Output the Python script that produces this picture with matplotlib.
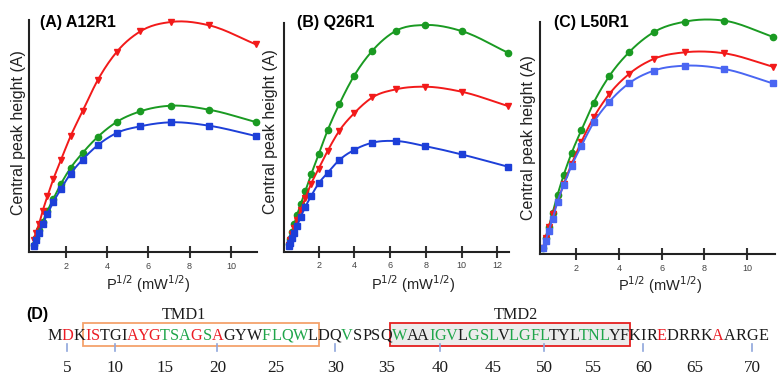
import numpy as np
import matplotlib.pyplot as plt
from matplotlib.patches import Rectangle
from matplotlib.font_manager import FontProperties

W, H = 781, 375

# x = sqrt(P) in mW^1/2
x_a = [0.45, 0.56, 0.71, 0.89, 1.12, 1.41, 1.78, 2.24, 2.82, 3.55, 4.47, 5.62, 7.08, 8.94, 11.2]
red_a = [12.3, 19.3, 27.7, 41, 55.7, 73, 92.3, 115.7, 140.7, 171.7, 200, 220.7, 230, 226.7, 207.7]
green_a = [6.7, 14.3, 21.7, 30, 41, 53.3, 68.3, 84, 99, 115, 130, 140.7, 146.3, 142.3, 130]
blue_a = [5.7, 12.3, 19.3, 28, 38, 50, 63.3, 78.3, 92.3, 106.7, 119, 125.7, 129.7, 126.3, 116]

x_b = [0.32, 0.4, 0.5, 0.63, 0.79, 1.0, 1.26, 1.58, 2.0, 2.51, 3.16, 3.98, 5.01, 6.31, 7.94, 10.0, 12.6]
green_b = [8, 13, 20, 27.3, 36.7, 47.7, 61, 77.3, 97.3, 121.7, 147.7, 175.7, 201, 220.7, 226.7, 220.7, 199]
red_b = [7, 12, 18, 24, 32, 42, 54, 68, 83, 101, 121, 138.3, 154.3, 162.3, 165, 160, 145.7]
blue_b = [5.7, 9, 13.3, 18.3, 25.7, 35, 45, 55.7, 68.3, 79, 91.7, 101.7, 109, 110.7, 105.7, 97.3, 85]

x_c = [0.45, 0.56, 0.71, 0.89, 1.12, 1.41, 1.78, 2.24, 2.82, 3.55, 4.47, 5.62, 7.08, 8.94, 11.2]
green_c = [5.7, 16, 27, 41, 59, 79, 101, 124, 151.5, 178, 201.7, 221.7, 232.3, 233.3, 217.3]
red_c = [5.7, 15.7, 26.7, 39.7, 52.3, 70, 90, 112.3, 136.7, 160, 180, 195, 201.7, 200.7, 187.3]
blue_c = [5.7, 13.3, 23.3, 35, 52.3, 69, 88.3, 108.3, 131.7, 152.3, 170.7, 183.3, 188.3, 185, 170.7]

titles = ["(A) A12R1", "(B) Q26R1", "(C) L50R1"]

# sequence, first residue is 4
seq = "MDKISTGIAYGTSAGSAGYWFLQWLDQVSPSQWAAIGVLGSLVLGFLTYLTNLYFKIREDRRKAARGE"
seq_col = "krkrrkkkrr" "rgggrgrkkk" "ggggkkkgkk" "kkgkkgggkg" "ggkggggkkk" "gggkkkkkrk" "kkkrkkkk"
first_res = 4
tmd1 = (7, 28)
tmd2 = (36, 58)
tick_res = [5, 10, 20, 30, 40, 50, 60, 70]
num_res = list(range(5, 71, 5))

plt.rcParams['font.family'] = ['Liberation Sans', 'DejaVu Sans']


def smooth(x, y, n=14):
    x = np.asarray(x, float)
    y = np.asarray(y, float)
    m = np.gradient(y, x)
    xs, ys = [], []
    t = np.linspace(0, 1, n, endpoint=False)
    for i in range(len(x) - 1):
        h = x[i + 1] - x[i]
        h00 = 2 * t**3 - 3 * t**2 + 1
        h10 = t**3 - 2 * t**2 + t
        h01 = -2 * t**3 + 3 * t**2
        h11 = t**3 - t**2
        ys.append(h00 * y[i] + h10 * h * m[i] + h01 * y[i + 1] + h11 * h * m[i + 1])
        xs.append(x[i] + t * h)
    xs.append([x[-1]])
    ys.append([y[-1]])
    return np.concatenate(xs), np.concatenate(ys)


def px(x0, y0, x1, y1):
    # pixel box (top-left origin) -> figure fraction rect
    return [x0 / W, 1 - y1 / H, (x1 - x0) / W, (y1 - y0) / H]


fig = plt.figure(figsize=(W / 100, H / 100), dpi=100)

panels = [
    (px(29, 20, 257, 252), (0.23, 11.26), [2, 4, 6, 8, 10], x_a, red_a, green_a, blue_a, '#1d3fd8'),
    (px(284, 23, 509, 251.7), (0.06, 12.66), [2, 4, 6, 8, 10, 12], x_b, red_b, green_b, blue_b, '#1d3fd8'),
    (px(540, 21.7, 775, 254), (0.3, 11.31), [2, 4, 6, 8, 10], x_c, red_c, green_c, blue_c, '#4a66f2'),
]
title_pos = [(40, 22), (297, 23), (554, 22)]
ylab_pos = [(19, 133), (270, 132), (528, 138)]
xlab_pos = [(148, 284), (413, 284), (660, 285)]

for i, (rect, xl, ticks, xs, r, g, b, bcol) in enumerate(panels):
    ax = fig.add_axes(rect)
    for ys, col, mk, ms in [(g, '#1a9a22', 'o', 4.5), (r, '#f21a1a', 'v', 5), (b, bcol, 's', 4.5)]:
        sx, sy = smooth(xs, ys)
        ax.plot(sx, sy, color=col, lw=1.4, clip_on=False)
        ax.plot(xs, ys, ls='none', marker=mk, ms=ms, color=col, clip_on=False)
    ax.set_xlim(*xl)
    ax.set_ylim(0, rect[3] * H)
    ax.set_xticks(ticks)
    ax.set_yticks([])
    for s in ['top', 'right']:
        ax.spines[s].set_visible(False)
    for s in ['left', 'bottom']:
        ax.spines[s].set_color('#222222')
        ax.spines[s].set_linewidth(1.5)
    ax.tick_params(axis='x', direction='inout', length=8, width=1.5, color='#333333',
                   labelsize=6.5, labelcolor='#444444', pad=3)
    ax.patch.set_alpha(0)
    tx, ty = title_pos[i]
    fig.text(tx / W, 1 - ty / H, titles[i], fontsize=11.5, fontweight='bold', va='center', ha='left')
    lx, ly = ylab_pos[i]
    fig.text(lx / W, 1 - ly / H, "Central peak height (A)", fontsize=11.5, rotation=90,
             va='center', ha='center', color='#222222')
    xx, xy = xlab_pos[i]
    fig.text(xx / W, 1 - xy / H, r"P$^{1/2}$ (mW$^{1/2}$)", fontsize=10.5, va='center', ha='center',
             color='#222222')

# panel D in pixel coordinates
axd = fig.add_axes([0, 0, 1, 1])
axd.set_xlim(0, W)
axd.set_ylim(H, 0)
axd.axis('off')

axd.text(37, 315, "(D)", fontsize=11.5, fontweight='bold', ha='center', va='center')

serif = 'Liberation Serif'
renderer = fig.canvas.get_renderer()
x_start, x_end = 47, 768


def tw(s, fp):
    if not s:
        return 0.0
    w, _, _ = renderer.get_text_width_height_descent(s, fp, ismath=False)
    return w


# pick the font size that makes the sequence span its width
fs = 12 * (x_end - x_start) / tw(seq, FontProperties(family=serif, size=12))
fp = FontProperties(family=serif, size=fs)
total = tw(seq, fp)
scale = (x_end - x_start) / total
lefts = [x_start + scale * tw(seq[:k], fp) for k in range(len(seq) + 1)]
cmap = {'k': '#1a1a1a', 'r': '#ec1c24', 'g': '#1fa54a'}


def box(r0, r1, ec, fc):
    x0 = lefts[r0 - first_res] - 2
    x1 = lefts[r1 - first_res + 1] + 1
    axd.add_patch(Rectangle((x0, 323), x1 - x0, 23, fill=fc is not None,
                            facecolor=fc if fc else 'none', edgecolor=ec, lw=1.3, zorder=1))


box(tmd1[0], tmd1[1], '#f4a26c', None)
box(tmd2[0], tmd2[1], '#e51f1f', '#ececec')
axd.text(184, 315, "TMD1", fontsize=fs, family=serif, ha='center', va='center', color='#1a1a1a')
axd.text(516, 315, "TMD2", fontsize=fs, family=serif, ha='center', va='center', color='#1a1a1a')

for k, ch in enumerate(seq):
    xc = (lefts[k] + lefts[k + 1]) / 2
    axd.text(xc, 340, ch, fontsize=fs, family=serif, ha='center', va='baseline',
             color=cmap[seq_col[k]], zorder=3)

for r in tick_res:
    k = r - first_res
    xc = (lefts[k] + lefts[k + 1]) / 2
    axd.plot([xc, xc], [344, 351], color='#8fa6dc', lw=1.2)

for r in num_res:
    k = r - first_res
    xc = (lefts[k] + lefts[k + 1]) / 2
    axd.text(xc, 368, str(r), fontsize=fs + 0.5, family=serif, ha='center', va='center', color='#1a1a1a')

fig.savefig('out.png', dpi=100)
